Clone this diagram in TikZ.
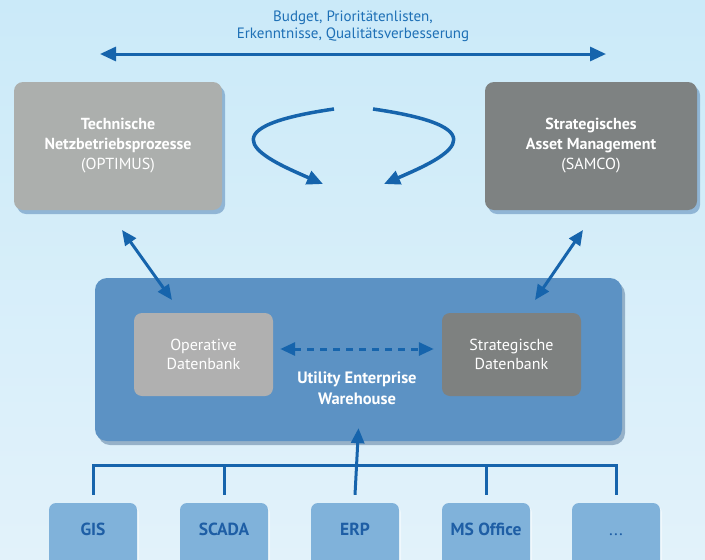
\documentclass[tikz,border=0pt]{standalone}
\usepackage{fontspec}
\setmainfont{PT Sans}
\usetikzlibrary{arrows.meta,shadows,calc}
\definecolor{bgtop}{RGB}{203,234,249}
\definecolor{bgbot}{RGB}{226,242,250}
\definecolor{arr}{RGB}{22,100,172}
\definecolor{toptxt}{RGB}{30,112,182}
\definecolor{lgray}{RGB}{172,175,173}
\definecolor{dgray}{RGB}{126,130,130}
\definecolor{ogray}{RGB}{176,176,176}
\definecolor{sgray}{RGB}{126,129,128}
\definecolor{uewc}{RGB}{92,146,196}
\definecolor{srcfill}{RGB}{128,178,218}
\definecolor{srctxt}{RGB}{30,94,165}
\definecolor{shadc}{RGB}{100,145,190}
\tikzset{bigtri/.tip={Triangle[length=16pt, width=14pt]},
         midtri/.tip={Triangle[length=15pt, width=13pt]}}
\begin{document}
\begin{tikzpicture}[x=1pt,y=-1pt,
  procbox/.style={rounded corners=9pt, minimum width=208, minimum height=128, align=center,
    text=white, font=\fontsize{16}{20}\selectfont,
    drop shadow={shadow xshift=3pt, shadow yshift=-4pt, fill=shadc, opacity=0.6}},
  dbbox/.style={rounded corners=8pt, minimum width=139, minimum height=83, align=center,
    text=white, font=\fontsize{16}{19}\selectfont},
  srcbox/.style={rounded corners=7pt, fill=srcfill, minimum width=88, minimum height=70,
    text=srctxt, font=\bfseries\fontsize{17.5}{20}\selectfont, text height=10pt, text depth=16pt,
    drop shadow={shadow xshift=2pt, shadow yshift=-3pt, fill=white, opacity=0.5}},
  conn/.style={draw=arr, line width=3pt}
]
\useasboundingbox (0,0) rectangle (705,560);
\clip (0,0) rectangle (705,560);
\shade[top color=bgtop, bottom color=bgbot] (0,0) rectangle (705,560);

% top text and arrow
\node[text=toptxt, align=center, font=\fontsize{15}{17}\selectfont] (toptext) at (353,26)
  {Budget, Prioritätenlisten,\\Erkenntnisse, Qualitätsverbesserung};
\coordinate (tl) at (100,54);
\coordinate (tr) at (606,54);
\draw[conn, bigtri-bigtri] (tl) -- (tr);

% process boxes
\node[procbox, fill=lgray] (tnp) at (118,146)
  {\textbf{Technische}\\\textbf{Netzbetriebsprozesse}\\(OPTIMUS)};
\node[procbox, fill=dgray, minimum width=212] (sam) at (591,146)
  {\textbf{Strategisches}\\\textbf{Asset Management}\\(SAMCO)};

% circular arrows
\coordinate (c1a) at (334,109);
\coordinate (c1b) at (323,184);
\coordinate (c2a) at (373,109);
\coordinate (c2b) at (384,184);
\draw[conn, line width=3.5pt, -bigtri] (c1a) .. controls (196,129) and (268,160) .. (c1b);
\draw[conn, line width=3.5pt, -bigtri] (c2a) .. controls (511,129) and (439,160) .. (c2b);

% warehouse
\node[rounded corners=12pt, fill=uewc, minimum width=527, minimum height=163,
  drop shadow={shadow xshift=3pt, shadow yshift=-4pt, fill=shadc!80!black, opacity=0.5}] (uew) at (358.5,359.5) {};
\node[dbbox, fill=ogray] (od) at (203.5,354.5) {Operative\\Datenbank};
\node[dbbox, fill=sgray] (sd) at (511.5,354.5) {Strategische\\Datenbank};
\node[text=white, align=center, font=\bfseries\fontsize{16.5}{21}\selectfont] (uewtxt) at (357,388)
  {Utility Enterprise\\Warehouse};
\draw[conn, dash pattern=on 7pt off 6pt, midtri-midtri] ($(od.east)+(7,-5.5)$) -- ($(sd.west)+(-8,-5.5)$);

% diagonal arrows
\coordinate (d1a) at (122,230);
\coordinate (d1b) at (172,300);
\coordinate (d2a) at (583,230);
\coordinate (d2b) at (535,300);
\draw[conn, midtri-midtri] (d1a) -- (d1b);
\draw[conn, midtri-midtri] (d2a) -- (d2b);

% source systems
\node[srcbox] (gis) at (93,538) {GIS};
\node[srcbox] (scada) at (224,538) {SCADA};
\node[srcbox] (erp) at (355,538) {ERP};
\node[srcbox] (mso) at (486,538) {MS Office};
\node[srcbox] (etc) at (616,538) {\textmd{...}};

\draw[conn] ($(gis.north)+(0,-8)$) -- ++(0,-29) -| ($(etc.north)+(0,-8)$);
\draw[conn] ($(scada.north)+(0,-8)$) -- ++(0,-29);
\draw[conn] ($(mso.north)+(0,-8)$) -- ++(0,-29);
\draw[conn, -midtri] ($(erp.north)+(0,-8)$) -- ($(uew.south)+(0,-13)$);
\end{tikzpicture}
\end{document}
